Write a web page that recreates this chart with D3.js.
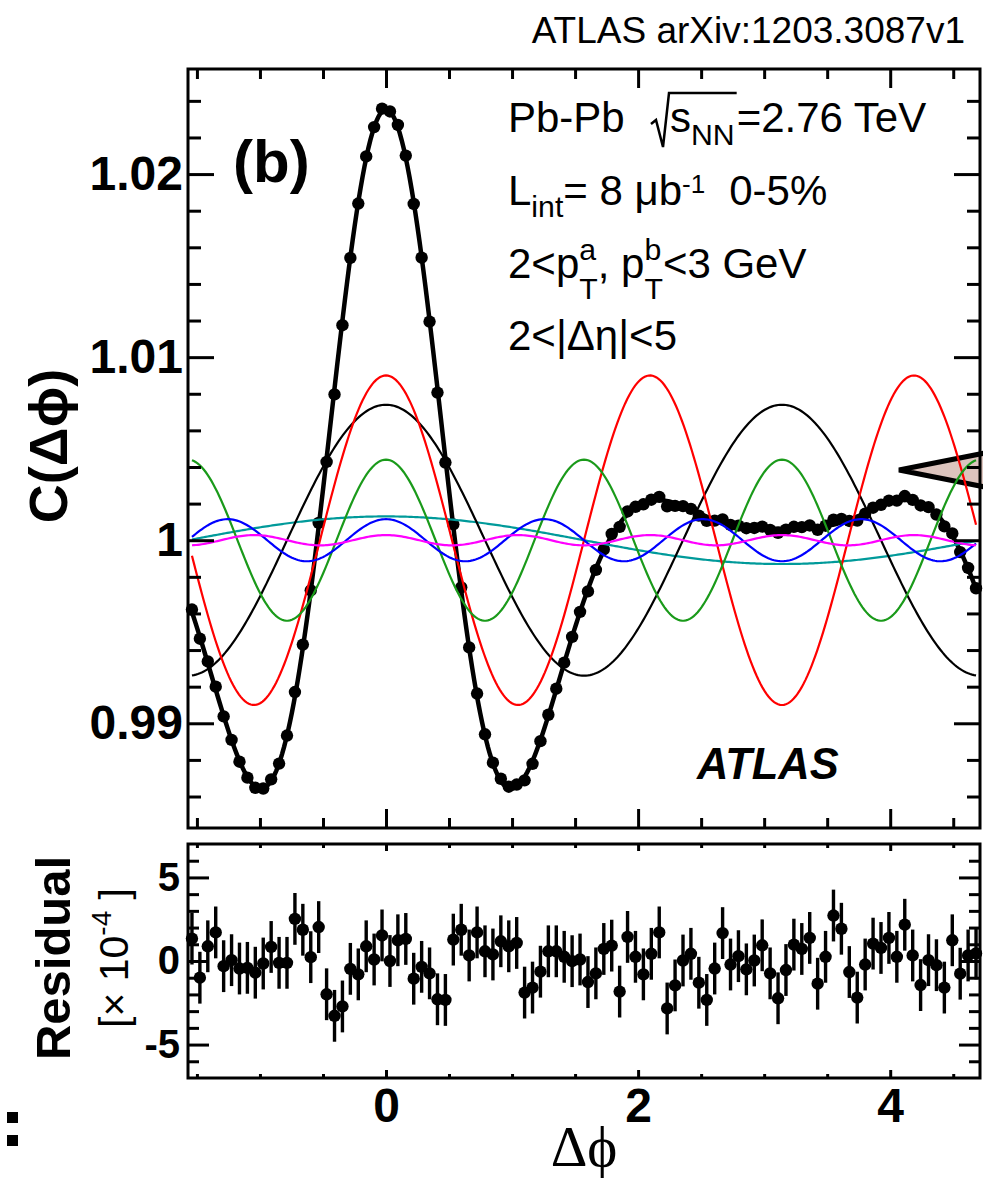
<!DOCTYPE html>
<html>
<head>
<meta charset="utf-8">
<script src="https://cdn.jsdelivr.net/npm/d3@7"></script>
<style>
  body { margin: 0; background: #fff; }
  svg { display: block; }
</style>
</head>
<body>
<div id="chart"></div>
<script>
// ---- data ----
const nBins = 100
const harmonicOrder = [1, 2, 3, 4, 5, 6]
// amplitudes 2v_n,n of each harmonic component
const harmonicAmp = [0.0013, 0.0074, 0.0090, 0.0044, 0.00115, 0.00028]
const harmonicColor = ["#009a9a", "#000000", "#ff0000", "#1a9a1a", "#0000ff", "#ff00ff"]
// residual (data - fit) in units of 1e-4, one per bin
const residual = [
    1.34, -1.00, 0.88, 1.71, -0.31, 0.05, -0.45, -0.41, -0.70, -0.15,
    0.84, -0.11, -0.11, 2.52, 1.87, 0.23, 2.03, -1.99, -3.28, -2.72,
    -0.47, -0.80, 0.88, 0.09, 1.53, 0.00, 1.24, 1.32, -1.06, -0.35,
    -0.74, -2.29, -2.33, 1.28, 1.87, 0.33, 1.71, 0.58, 0.39, 1.18,
    0.88, 1.08, -1.89, -1.59, -0.64, 0.58, 0.58, 0.25, -0.01, 0.09,
    -1.26, -0.74, 0.72, 0.92, -1.83, 1.44, 0.25, -0.80, 0.43, 1.71,
    -2.84, -1.46, 0.03, 0.43, -1.30, -2.33, -0.45, 1.67, -0.21, 0.29,
    -0.50, 0.03, 0.94, -0.74, -2.23, -0.54, 0.98, 0.72, 1.38, -1.36,
    0.25, 2.72, 1.93, -0.66, -2.19, -0.21, 1.04, 0.78, 1.38, 0.25,
    2.17, 0.33, -1.44, 0.05, -0.25, -1.59, 1.24, -0.76, 0.33, 0.45
]
const residualErr = 1.55
const xTickMajor = [0, 2, 4]
const yTopTickMajor = [0.99, 1, 1.01, 1.02]
const yBotTickMajor = [-5, 0, 5]

// ---- layout ----
const width = 983
const height = 1181
const frameL = 188, frameR = 980
const topT = 69, topB = 828
const botT = 844, botB = 1078
const sans = "'Liberation Sans', Arial, Helvetica, sans-serif"

const x = d3.scaleLinear().domain([-Math.PI / 2, 3 * Math.PI / 2]).range([frameL, frameR])
const yTop = d3.scaleLinear().domain([0.98428, 1.02574]).range([topB, topT])
const yBot = d3.scaleLinear().domain([-7, 7]).range([botB, botT])

const binW = 2 * Math.PI / nBins
const centers = d3.range(nBins).map(i => -Math.PI / 2 + (i + 0.5) * binW)
const fit = phi => 1 + d3.sum(harmonicOrder, (n, k) => harmonicAmp[k] * Math.cos(n * phi))
const points = centers.map((c, i) => ({ phi: c, c: fit(c) + residual[i] * 1e-4, r: residual[i] }))
const curveX = d3.range(401).map(k => centers[0] + k * (centers[nBins - 1] - centers[0]) / 400)

const svg = d3.select("#chart").append("svg")
    .attr("width", width)
    .attr("height", height)
    .attr("font-family", sans)

svg.append("rect").attr("width", width).attr("height", height).attr("fill", "#fff")

// cut-off wedge at the right edge (part of the page)
svg.append("polygon")
    .attr("points", "899,470 990,452 990,488")
    .attr("fill", "#dcc4be")
    .attr("stroke", "#000")
    .attr("stroke-width", 5)

// ---- top panel ----
const line = d3.line().x(d => x(d[0])).y(d => yTop(d[1]))

svg.append("path")
    .datum(curveX.map(p => [p, fit(p)]))
    .attr("d", line)
    .attr("fill", "none")
    .attr("stroke", "#000")
    .attr("stroke-width", 4.5)

svg.append("g")
    .selectAll("circle")
    .data(points)
    .join("circle")
    .attr("cx", d => x(d.phi))
    .attr("cy", d => yTop(d.c))
    .attr("r", 6.2)
    .attr("fill", "#000")

svg.append("g")
    .selectAll("path")
    .data(harmonicOrder)
    .join("path")
    .attr("d", (n, k) => line(curveX.map(p => [p, 1 + harmonicAmp[k] * Math.cos(n * p)])))
    .attr("fill", "none")
    .attr("stroke", (n, k) => harmonicColor[k])
    .attr("stroke-width", 2.2)

// ---- bottom panel ----
const res = svg.append("g")
res.selectAll("line")
    .data(points)
    .join("line")
    .attr("x1", d => x(d.phi))
    .attr("x2", d => x(d.phi))
    .attr("y1", d => yBot(d.r - residualErr))
    .attr("y2", d => yBot(d.r + residualErr))
    .attr("stroke", "#000")
    .attr("stroke-width", 3.4)
res.selectAll("circle")
    .data(points)
    .join("circle")
    .attr("cx", d => x(d.phi))
    .attr("cy", d => yBot(d.r))
    .attr("r", 6.2)
    .attr("fill", "#000")

// ---- axes, ROOT style (ticks inside) ----
const notIn = majors => v => !majors.some(m => Math.abs(m - v) < 1e-9)
const xMinor = d3.range(-1.5, 4.6, 0.5).filter(notIn(xTickMajor))
const yTopMinor = d3.range(0.986, 1.0245, 0.002).filter(notIn(yTopTickMajor))
const yBotMinor = d3.range(-6, 6.5, 1).filter(notIn(yBotTickMajor))

function drawAxis(axisFn, scale, tx, ty, values, size, labels, fontSize, pad) {
    const a = axisFn(scale).tickValues(values).tickSize(-size).tickPadding(pad || 0)
    if (!labels) a.tickFormat("")
    else a.tickFormat(labels)
    const g = svg.append("g")
        .attr("transform", `translate(${tx},${ty})`)
        .call(a)
    g.select(".domain").remove()
    g.selectAll("line").attr("stroke", "#000").attr("stroke-width", 3)
    g.selectAll("text")
        .attr("fill", "#000")
        .attr("font-family", sans)
        .attr("font-weight", "bold")
        .attr("font-size", fontSize || 10)
    return g
}

const topLabel = d => d === 1 ? "1" : d3.format(".2f")(d)
// top panel
drawAxis(d3.axisLeft, yTop, frameL, 0, yTopTickMajor, 26, topLabel, 48, 5)
drawAxis(d3.axisLeft, yTop, frameL, 0, yTopMinor, 13)
drawAxis(d3.axisRight, yTop, frameR, 0, yTopTickMajor, 26)
drawAxis(d3.axisRight, yTop, frameR, 0, yTopMinor, 13)
drawAxis(d3.axisTop, x, 0, topT, xTickMajor, 19)
drawAxis(d3.axisTop, x, 0, topT, xMinor, 10)
drawAxis(d3.axisBottom, x, 0, topB, xTickMajor, 19)
drawAxis(d3.axisBottom, x, 0, topB, xMinor, 10)
// bottom panel
drawAxis(d3.axisLeft, yBot, frameL, 0, yBotTickMajor, 21, d => d3.format("d")(d).replace("−", "-"), 40, 8)
drawAxis(d3.axisLeft, yBot, frameL, 0, yBotMinor, 11)
drawAxis(d3.axisRight, yBot, frameR, 0, yBotTickMajor, 21)
drawAxis(d3.axisRight, yBot, frameR, 0, yBotMinor, 11)
drawAxis(d3.axisTop, x, 0, botT, xTickMajor, 7)
drawAxis(d3.axisTop, x, 0, botT, xMinor, 4)
drawAxis(d3.axisBottom, x, 0, botB, xTickMajor, 8, d => d, 48, 10)
drawAxis(d3.axisBottom, x, 0, botB, xMinor, 4)

// frames
svg.append("g")
    .selectAll("rect")
    .data([[topT, topB], [botT, botB]])
    .join("rect")
    .attr("x", frameL)
    .attr("y", d => d[0])
    .attr("width", frameR - frameL)
    .attr("height", d => d[1] - d[0])
    .attr("fill", "none")
    .attr("stroke", "#000")
    .attr("stroke-width", 3)

// ---- titles ----
svg.append("text")
    .attr("transform", "translate(67,446) rotate(-90)")
    .attr("text-anchor", "middle")
    .attr("font-weight", "bold")
    .attr("font-size", 54)
    .text("C(Δϕ)")

svg.append("text")
    .attr("transform", "translate(70,958) rotate(-90)")
    .attr("text-anchor", "middle")
    .attr("font-weight", "bold")
    .attr("font-size", 49)
    .text("Residual")

const unitT = svg.append("text")
    .attr("transform", "translate(128,958) rotate(-90)")
    .attr("text-anchor", "middle")
    .attr("font-size", 41)
unitT.append("tspan").text("[× 10")
unitT.append("tspan").attr("font-size", 28).attr("dy", -17).text("-4")
unitT.append("tspan").attr("dy", 17).text("\u00a0]")

svg.append("text")
    .attr("x", 584)
    .attr("y", 1166)
    .attr("text-anchor", "middle")
    .attr("font-family", "'Liberation Serif', 'DejaVu Serif', serif")
    .attr("font-size", 57)
    .text("Δϕ")

svg.append("text")
    .attr("x", 965)
    .attr("y", 43)
    .attr("text-anchor", "end")
    .attr("font-size", 37)
    .text("ATLAS arXiv:1203.3087v1")

svg.append("text")
    .attr("x", 233)
    .attr("y", 182)
    .attr("font-weight", "bold")
    .attr("font-size", 60)
    .text("(b)")

svg.append("text")
    .attr("x", 697)
    .attr("y", 779)
    .attr("font-weight", "bold")
    .attr("font-style", "italic")
    .attr("font-size", 43.5)
    .text("ATLAS")

// ---- info text with sub/superscripts ----
const infoSize = 42
function rich(x0, y0, pieces) {
    let cx = x0
    pieces.forEach(p => {
        const fs = infoSize * (p.scale || 1)
        const t = svg.append("text")
            .attr("x", cx)
            .attr("y", y0 + (p.shift || 0) * infoSize)
            .attr("font-size", fs)
            .text(p.t)
        const w = t.node().getComputedTextLength()
        if (!p.stack) cx += w + (p.gap || 0)
    })
    return cx
}

rich(508, 132, [{ t: "Pb-Pb" }])
const sEnd = rich(670, 132, [
    { t: "s" },
    { t: "NN", scale: 0.72, shift: 0.31, gap: 2 }
])
rich(sEnd, 132, [{ t: "=2.76 TeV" }])
svg.append("path")
    .attr("d", `M651,124 L656,120 L663,147 L669,93 L${sEnd},93`)
    .attr("fill", "none")
    .attr("stroke", "#000")
    .attr("stroke-width", 2.5)

rich(508, 205, [
    { t: "L" },
    { t: "int", scale: 0.72, shift: 0.29 },
    { t: "= 8 μb" },
    { t: "-1", scale: 0.62, shift: -0.29, gap: 24 },
    { t: "0-5%" }
])

rich(508, 278, [
    { t: "2<p" },
    { t: "a", scale: 0.72, shift: -0.44, stack: true },
    { t: "T", scale: 0.72, shift: 0.5 },
    { t: ", p" },
    { t: "b", scale: 0.72, shift: -0.44, stack: true },
    { t: "T", scale: 0.72, shift: 0.5 },
    { t: "<3 GeV" }
])

rich(508, 350, [{ t: "2<|Δη|<5" }])

// stray marks at the bottom-left edge of the page
svg.append("g")
    .selectAll("rect")
    .data([1112, 1135])
    .join("rect")
    .attr("x", 7)
    .attr("y", d => d)
    .attr("width", 11)
    .attr("height", 11)
    .attr("fill", "#000")
</script>
</body>
</html>
